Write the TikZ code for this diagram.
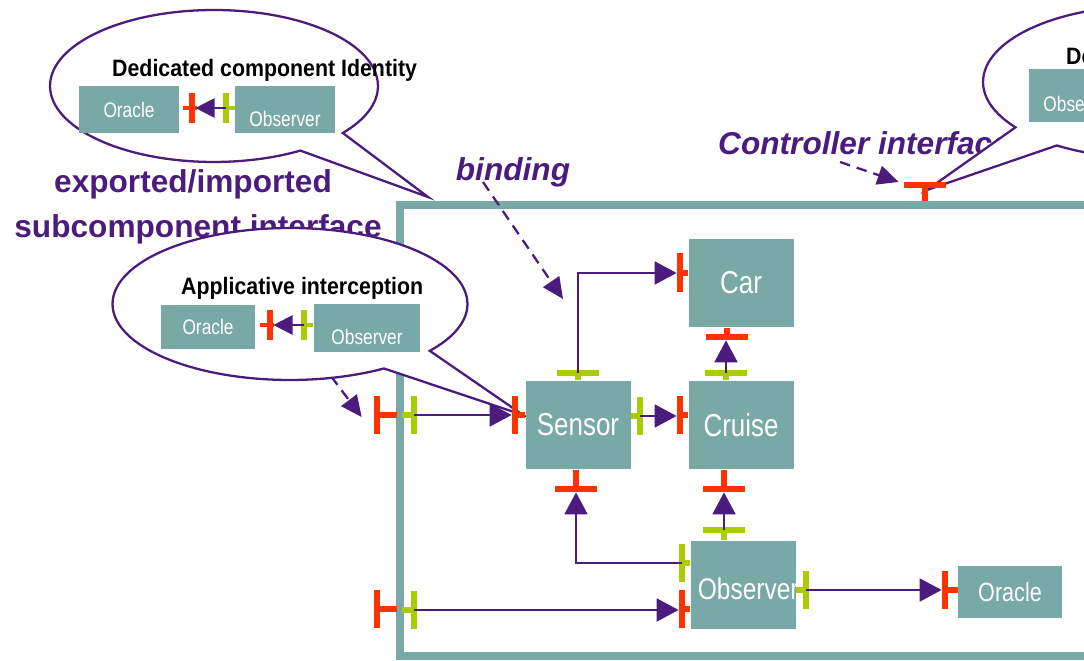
\documentclass[tikz,border=0pt]{standalone}
\usepackage{fontspec}
\setmainfont{Liberation Sans}
\newfontfamily\narrowsf[FakeStretch=0.82]{Liberation Sans}
\newfontfamily\titlesf[FakeStretch=0.9]{Liberation Sans}
\usetikzlibrary{shapes,shapes.callouts,arrows.meta}
\usepackage{xcolor}
\definecolor{compteal}{HTML}{78A9A7}
\definecolor{itfred}{HTML}{FF3300}
\definecolor{itfgreen}{HTML}{AACC00}
\definecolor{fcpurple}{HTML}{4B1C7D}

\begin{document}
\begin{tikzpicture}[x=0.02cm,y=-0.02cm,
					comp/.style={fill=compteal, text=white, inner sep=0, minimum width=2.1cm, minimum height=1.78cm, font=\narrowsf\fontsize{18}{18}\selectfont},
					mini/.style={fill=compteal, text=white, inner sep=0, minimum width=2cm, minimum height=0.94cm, font=\narrowsf\fontsize{12}{12}\selectfont},
					srvv/.style={fill=itfred, inner sep=0, minimum width=0.12cm, minimum height=0.78cm},
					srvh/.style={fill=itfred, inner sep=0, minimum width=0.84cm, minimum height=0.12cm},
					cltv/.style={fill=itfgreen, inner sep=0, minimum width=0.12cm, minimum height=0.78cm},
					clth/.style={fill=itfgreen, inner sep=0, minimum width=0.84cm, minimum height=0.12cm},
					stubr/.style={draw=itfred, line width=3pt},
					stubg/.style={draw=itfgreen, line width=3pt},
					link/.style={draw=fcpurple, line width=1.3pt, -{Triangle[length=12.5pt,width=13pt]}},
					pointer/.style={draw=fcpurple, line width=1.3pt, dash pattern=on 6pt off 4pt, -{Triangle[length=12pt,width=11pt]}},
					note/.style={text=fcpurple, font=\bfseries\fontsize{18}{18}\selectfont},
					bubble/.style={ellipse callout, draw=fcpurple, fill=white, line width=1.3pt, inner sep=0, minimum width=6.56cm, minimum height=3.04cm, callout pointer arc=20},
					title/.style={font=\titlesf\bfseries\fontsize{13.5}{13.5}\selectfont}]
    \useasboundingbox (0,0) rectangle (1084,661);
    \clip (0,0) rectangle (1084,661);
    % Composite
    \draw[compteal, line width=4.5pt] (400,205) rectangle (1130,656);

    % Notes
    \node[note, anchor=base] (expo) at (193,193) {exported/imported};
    \node[note, anchor=base] (subc) at (198,238) {subcomponent interface};
    \node[note, anchor=base, font=\bfseries\itshape\fontsize{18}{18}\selectfont] (binding) at (513,181) {binding};
    \node[note, anchor=base west, font=\bfseries\itshape\fontsize{18}{18}\selectfont] (ctrl) at (712,155) {Controller interface};
    \coordinate (expoStart) at (236,250);
    \coordinate (bindStart) at (483,182);
    \coordinate (bindTip) at (563,299);
    \coordinate (ctrlStart) at (840,162);
    \node[srvv] (compL1) at (377,415) {};
    \draw[pointer] (expoStart) -- ([xshift=-0.24cm,yshift=-0.04cm]compL1.west);

    % Callouts
    \node[bubble, callout absolute pointer={(428,197)}] (call1) at (214,86) {};
    \node[title, anchor=base west] (t1) at (106,77) {Dedicated component Identity};
    \node[mini] (or1) at (129,110) {Oracle};
    \node[mini] (ob1) at (285,110) {\raisebox{-9.6pt}[0pt][0pt]{Observer}};
    \node[srvv, minimum height=0.6cm] (or1R) at (192,108) {};
    \node[cltv, minimum height=0.6cm] (ob1L) at (226,108) {};
    \draw[stubr, line width=2.5pt] (or1R.center) ++(-9,0) -- ++(14,0);
    \draw[stubg, line width=2.5pt] (ob1L.center) -- (ob1L -| ob1.west);
    \draw[link, -{Triangle[length=11pt,width=11pt]}] (ob1L.center) -- (or1R.east);

    \node[bubble, minimum width=7.1cm, callout absolute pointer={(523,415)}] (call2) at (290,304) {};
    \node[title, anchor=base west] (t2) at (175,295) {Applicative interception};
    \node[mini, minimum width=1.88cm, minimum height=0.88cm] (or2) at (208,327) {Oracle};
    \node[mini, minimum width=2.14cm, minimum height=0.96cm] (ob2) at (367,328) {\raisebox{-9.6pt}[0pt][0pt]{Observer}};
    \node[srvv, minimum height=0.6cm] (or2R) at (270,325) {};
    \node[cltv, minimum height=0.6cm] (ob2L) at (304,325) {};
    \draw[stubr, line width=2.5pt] (or2R.center) ++(-10,0) -- ++(14,0);
    \draw[stubg, line width=2.5pt] (ob2L.center) -- (ob2L -| ob2.west);
    \draw[link, -{Triangle[length=11pt,width=11pt]}] (ob2L.center) -- (or2R.east);

    \node[bubble, callout absolute pointer={(927,190)}] (call3) at (1147,82) {};
    \node[title, anchor=base west] (t3) at (1060,65) {Dedicated component Identity};
    \node[mini, minimum height=1.06cm] (ob3) at (1079,96) {\raisebox{-8.8pt}[0pt][0pt]{Observer}};

    % Place nodes
    \node[comp] (car) at (741,283) {Car};
    \node[comp] (sensor) at (578,425) {Sensor};
    \node[comp] (cruise) at (741,425) {Cruise};
    \node[comp, font=\narrowsf\fontsize{17}{17}\selectfont] (observer) at (743,585) {\raisebox{-8.2pt}[0pt][0pt]{\makebox[0pt]{\hspace{6pt}Observer}}};
    \node[comp, minimum width=2.08cm, minimum height=1.04cm, font=\narrowsf\fontsize{15}{15}\selectfont] (oracle) at (1010,592) {Oracle};

    % Interfaces
    \node[srvv] (carL) at (680,273) {};
    \node[srvh] (carB) at (727,337) {};
    \node[clth] (cruiseT) at (726,373) {};
    \node[srvv] (cruiseL) at (680,415) {};
    \node[srvh] (cruiseB) at (724,489) {};
    \node[clth] (sensorT) at (578,373) {};
    \node[cltv] (sensorR) at (640,416) {};
    \node[srvv] (sensorL) at (515,415) {};
    \node[srvh] (sensorB) at (576,489) {};
    \node[clth] (obsT) at (724,530) {};
    \node[cltv] (obsL1) at (682,563) {};
    \node[srvv] (obsL2) at (682,609) {};
    \node[cltv] (obsR) at (806,590) {};
    \node[srvv] (oracleL) at (945,590) {};
    \node[cltv] (compLi1) at (414,415) {};
    \node[srvv] (compL2) at (377,609) {};
    \node[cltv] (compLi2) at (414,610) {};
    \node[srvh] (compT) at (925,185) {};

    \draw[stubr] (carL.center) -- (carL -| car.west);
    \draw[stubr] (carB.center) -- (carB |- car.south);
    \draw[stubg] (cruiseT.center) -- (cruiseT |- cruise.north);
    \draw[stubr] (cruiseL.center) -- (cruiseL -| cruise.west);
    \draw[stubr] (cruiseB.center) -- (cruiseB |- cruise.south);
    \draw[stubg] (sensorT.center) -- (sensorT |- sensor.north);
    \draw[stubg] (sensorR.center) -- (sensorR -| sensor.east);
    \draw[stubr] (sensorL.center) -- (sensorL -| sensor.west);
    \draw[stubr] (sensorB.center) -- (sensorB |- sensor.south);
    \draw[stubg] (obsT.center) -- (obsT |- observer.north);
    \draw[stubg] (obsL1.center) -- (obsL1 -| observer.west);
    \draw[stubr] (obsL2.center) -- (obsL2 -| observer.west);
    \draw[stubg] (obsR.center) -- (obsR -| observer.east);
    \draw[stubr] (oracleL.center) -- (oracleL -| oracle.west);
    \draw[stubr] (compL1.center) -- ++(20,0);
    \draw[stubg] (compLi1.center) -- ++(-12,0);
    \draw[stubr] (compL2.center) -- ++(20,0);
    \draw[stubg] (compLi2.center) -- ++(-12,0);
    \draw[stubr] (compT.center) -- ++(0,16);

    % Draw edges
    \draw[link] (compLi1.center) -- (sensorL.west);
    \draw[link] (sensorT.center) -- (sensorT |- carL) -- (carL.west);
    \draw[link] (sensorR.center) -- (sensorR -| cruiseL.west);
    \draw[link] (cruiseT.center) -- (cruiseT |- carB.south);
    \draw[link] (obsT.center) -- (obsT |- cruiseB.south);
    \draw[link] (obsL1.center) -- (obsL1 -| sensorB) -- (sensorB.south);
    \draw[link] (compLi2.center) -- (compLi2 -| obsL2.west);
    \draw[link] (obsR.center) -- (oracleL.west);
    \draw[pointer] (bindStart) -- (bindTip);
    \draw[pointer] (ctrlStart) -- ([xshift=-0.1cm,yshift=0.06cm]compT.west);
\end{tikzpicture}
\end{document}
